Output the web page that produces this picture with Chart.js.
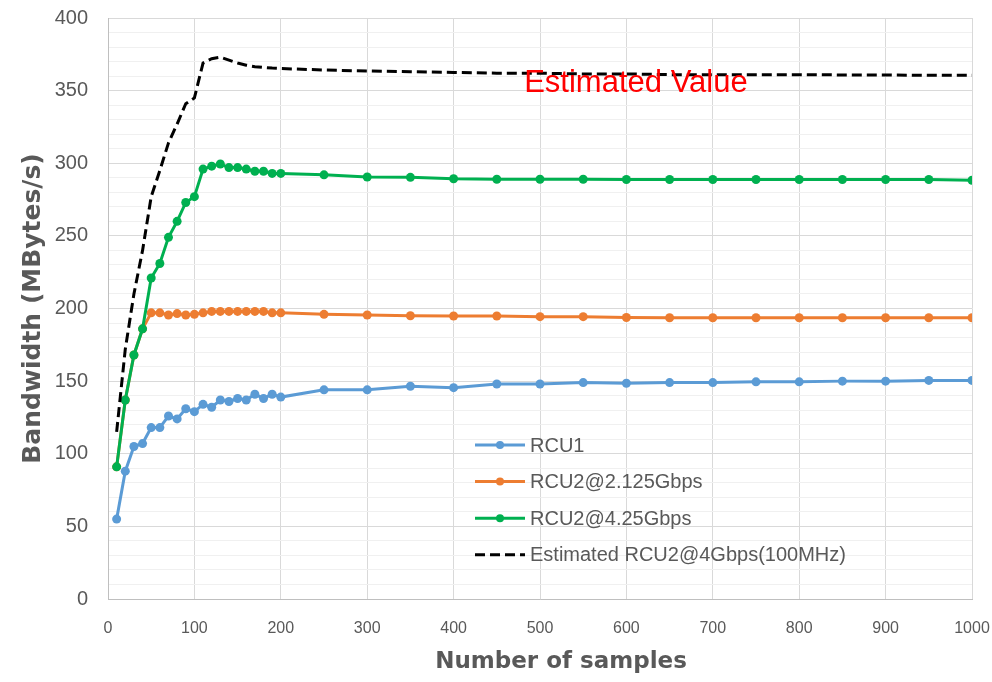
<!DOCTYPE html>
<html>
<head>
<meta charset="utf-8">
<script src="https://cdn.jsdelivr.net/npm/chart.js@4"></script>
<style>
  body { margin: 0; background: #ffffff; }
  #wrap { width: 992px; height: 682px; }
</style>
</head>
<body>
<div id="wrap"><canvas id="myChart" width="992" height="682"></canvas></div>
<script>
// samples on the x axis
let samples = [10, 20, 30, 40, 50, 60, 70, 80, 90, 100,
  110, 120, 130, 140, 150, 160, 170, 180, 190, 200,
  250, 300, 350, 400, 450, 500, 550, 600, 650, 700,
  750, 800, 850, 900, 950, 1000];

let rcu1 = [55, 88, 105, 107, 118, 118, 126, 124, 131, 129,
  134, 132, 137, 136, 138, 137, 141, 138, 141, 139,
  144, 144, 146.5, 145.5, 148, 148, 149, 148.5, 149, 149,
  149.5, 149.5, 150, 150, 150.5, 150.5];

let rcu2Slow = [91, 137, 168, 186, 197, 197, 195.5, 196.5, 195.5, 196,
  197, 198, 198, 198, 198, 198, 198, 198, 197, 197,
  196, 195.5, 195, 194.8, 194.8, 194.4, 194.4, 193.8, 193.6, 193.6,
  193.6, 193.6, 193.6, 193.6, 193.6, 193.6];

let rcu2Fast = [91, 137, 168, 186, 221, 231, 249, 260, 273, 277,
  296, 298, 299.5, 297, 297, 296, 294.5, 294.5, 293, 293,
  292, 290.5, 290.3, 289.3, 289, 289, 289, 288.8, 288.8, 288.8,
  288.8, 288.8, 288.8, 288.8, 288.8, 288.3];

let estimated = [115, 172, 210, 240, 277, 295, 314, 327, 341, 345,
  369, 372, 373, 371, 369, 367.5, 366.5, 366, 365.5, 365.2,
  364.2, 363.5, 363, 362.5, 362, 362, 361.5, 361.5, 361, 361,
  361, 361, 360.8, 360.8, 360.5, 360.5];

let labels = ["RCU1", "RCU2@2.125Gbps", "RCU2@4.25Gbps", "Estimated RCU2@4Gbps(100MHz)"];
let colors = ["#5B9BD5", "#ED7D31", "#00B050", "#000000"];

let note = { text: "Estimated Value", x: 611, y: 355 };
let xTitle = "Number of samples";

let gray = "#595959";
let font = "'Liberation Sans', Arial, sans-serif";
let titleFont = "'DejaVu Sans', sans-serif";

let toPoints = (arr) => samples.map((s, i) => ({ x: s, y: arr[i] }));

let makeSet = (i, arr, order) => ({
  label: labels[i],
  data: toPoints(arr),
  borderColor: colors[i],
  backgroundColor: colors[i],
  borderWidth: 3,
  pointRadius: 4.5,
  pointBorderWidth: 0,
  pointBackgroundColor: colors[i],
  order: order,
});

let datasets = [
  makeSet(0, rcu1, 4),
  makeSet(1, rcu2Slow, 3),
  makeSet(2, rcu2Fast, 2),
  {
    label: labels[3],
    data: toPoints(estimated),
    borderColor: colors[3],
    borderWidth: 3,
    borderDash: [10, 5],
    pointRadius: 0,
    order: 1,
  },
];

// legend inside the plot, red note, x title
let extras = {
  id: "extras",
  afterDraw(chart) {
    let ctx = chart.ctx;
    let xs = chart.scales.x, ys = chart.scales.y;
    ctx.save();

    // note text
    ctx.fillStyle = "#FF0000";
    ctx.font = "31px " + font;
    ctx.textAlign = "center";
    ctx.textBaseline = "middle";
    ctx.fillText(note.text, xs.getPixelForValue(note.x), ys.getPixelForValue(note.y));

    // x title (sits a bit right of centre like the original)
    ctx.fillStyle = gray;
    ctx.font = "bold 23px " + titleFont;
    ctx.fillText(xTitle, 561, 662);

    // legend
    let left = 475, top = 445, step = 36.6;
    ctx.font = "20px " + font;
    ctx.textAlign = "left";
    chart.data.datasets.forEach((ds, i) => {
      let y = top + i * step;
      ctx.strokeStyle = ds.borderColor;
      ctx.lineWidth = ds.borderWidth;
      ctx.setLineDash(ds.borderDash || []);
      ctx.beginPath();
      ctx.moveTo(left, y);
      ctx.lineTo(left + 50, y);
      ctx.stroke();
      ctx.setLineDash([]);
      if (ds.pointRadius > 0) {
        ctx.fillStyle = ds.borderColor;
        ctx.beginPath();
        ctx.arc(left + 25, y, 4, 0, Math.PI * 2);
        ctx.fill();
      }
      ctx.fillStyle = gray;
      ctx.fillText(ds.label, left + 55, y + 1);
    });
    ctx.restore();
  },
};

let ctx = document.getElementById("myChart");
new Chart(ctx, {
  type: "line",
  data: { datasets },
  plugins: [extras],
  options: {
    responsive: false,
    animation: false,
    devicePixelRatio: 1,
    layout: { padding: { left: 0, right: 20, top: 18, bottom: 0 } },
    plugins: { legend: { display: false }, tooltip: { enabled: false } },
    scales: {
      x: {
        type: "linear",
        min: 0,
        max: 1000,
        afterFit: (s) => {
          s.height = 83;
          s.paddingLeft = 0;
          s.paddingRight = 0;
        },
        ticks: {
          stepSize: 100,
          color: gray,
          padding: 20,
          maxRotation: 0,
          font: { size: 16, family: font },
          callback: (v) => String(v),
        },
        grid: { color: "#d9d9d9", drawTicks: false, lineWidth: 1 },
        border: { color: "#bfbfbf" },
      },
      y: {
        min: 0,
        max: 400,
        afterFit: (s) => {
          s.width = 108;
          s.paddingTop = 0;
          s.paddingBottom = 0;
        },
        ticks: {
          stepSize: 10,
          autoSkip: false,
          color: gray,
          padding: 20,
          font: { size: 20, family: font },
          callback: (v) => (v % 50 === 0 ? String(v) : ""),
        },
        grid: {
          drawTicks: false,
          color: (c) => (c.tick && c.tick.value % 50 === 0 ? "#d9d9d9" : "#f0f0f0"),
        },
        border: { color: "#bfbfbf" },
        title: {
          display: true,
          text: "Bandwidth (MBytes/s)",
          color: gray,
          font: { size: 25, weight: "bold", family: titleFont },
          padding: { top: 18, bottom: 0 },
        },
      },
    },
  },
});
</script>
</body>
</html>
